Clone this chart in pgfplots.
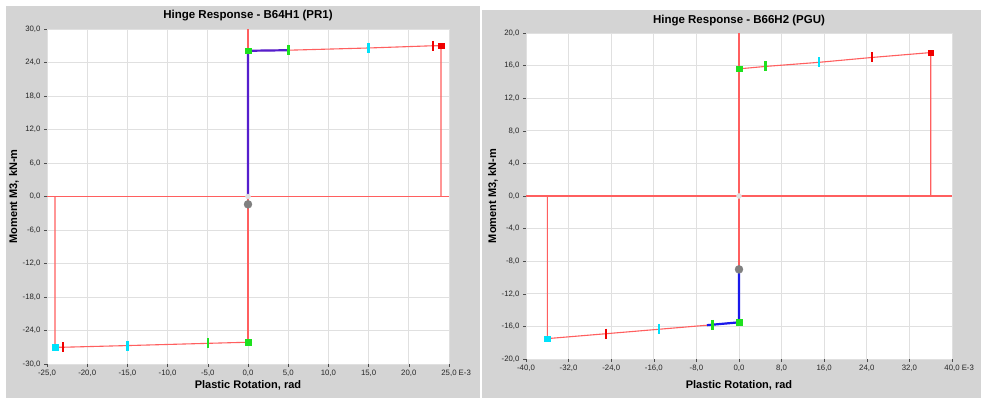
\documentclass[border=0pt]{standalone}
\usepackage{fontspec}
\setmainfont{Liberation Sans}
\usepackage{pgfplots}
\pgfplotsset{compat=1.18}

\definecolor{panelgrey}{RGB}{212,212,212}
\definecolor{bbred}{RGB}{255,95,95}
\definecolor{mred}{RGB}{240,0,0}
\definecolor{mgreen}{RGB}{30,225,30}
\definecolor{mcyan}{RGB}{0,225,250}
\definecolor{lblue}{RGB}{85,30,205}
\definecolor{rblue}{RGB}{25,25,235}

\pgfplotsset{
 hinge/.style={
  scale only axis, anchor=south west,
  axis background/.style={fill=white},
  axis line style={draw=none},
  grid=major, major grid style={black!12, line width=0.9pt},
  tick align=outside, major tick length=3pt,
  tick style={black!70, line width=0.5pt},
  xtick pos=bottom, ytick pos=left,
  tick label style={font=\fontsize{7.8}{9}\selectfont, text=black!85},
  title style={font=\bfseries\fontsize{11.5}{13}\selectfont, anchor=center, yshift=-6pt},
  xlabel style={font=\bfseries\fontsize{11}{13}\selectfont, anchor=center},
  ylabel style={font=\bfseries\fontsize{11}{13}\selectfont, anchor=center},
  clip=false,
 },
 bb/.style={color=bbred, line width=1.1pt, mark=none},
 gsq/.style={only marks, mark=square*, mark size=2.8pt, color=mgreen},
 rsq/.style={only marks, mark=square*, mark size=2.8pt, color=mred},
 csq/.style={only marks, mark=square*, mark size=2.8pt, color=mcyan},
 gtk/.style={only marks, mark=|, mark size=5pt, color=mgreen, mark options={line width=2.6pt}},
 ctk/.style={only marks, mark=|, mark size=5pt, color=mcyan, mark options={line width=2.6pt}},
 rtk/.style={only marks, mark=|, mark size=5pt, color=mred, mark options={line width=2.6pt}},
 gcirc/.style={only marks, mark=*, mark size=4pt, color=black!50},
 odot/.style={only marks, mark=*, mark size=2.5pt, color=black!12},
}

\begin{document}
\begin{tikzpicture}
\path[use as bounding box, fill=white] (0,0) rectangle (981pt,398pt);
\fill[panelgrey] (6pt,0pt) rectangle (480pt,392pt);
\fill[panelgrey] (482pt,0pt) rectangle (981pt,388pt);

% ---------------- Left panel ----------------
\begin{axis}[hinge, at={(47pt,34pt)}, width=402pt, height=335pt,
 xmin=-25, xmax=25, ymin=-30, ymax=30,
 xtick={-25,-20,...,25},
 xticklabels={{-25,0},{-20,0},{-15,0},{-10,0},{-5,0},{0,0},{5,0},{10,0},{15,0},{20,0},{25,0\rlap{ E-3}}},
 ytick={-30,-24,...,30},
 yticklabels={{-30,0},{-24,0},{-18,0},{-12,0},{-6,0},{0,0},{6,0},{12,0},{18,0},{24,0},{30,0}},
 title={Hinge Response - B64H1 (PR1)},
 title style={at={(axis description cs:0.5,1.039)}},
 xlabel={Plastic Rotation, rad},
 xlabel style={at={(axis description cs:0.5,-0.063)}},
 ylabel={Moment M3, kN-m},
 ylabel style={at={(axis description cs:-0.082,0.5)}},
]
\addplot[bb] coordinates {(-25,0) (25,0)};
\addplot[bb] coordinates {(0,30) (0,-26.1)};
\addplot[bb] coordinates {(-24,0) (-24,-27) (-23,-27) (-15,-26.7) (-5,-26.3) (0,-26.1)};
\addplot[bb] coordinates {(0,26.1) (5,26.2) (15,26.6) (23,27) (24,27) (24,0)};
\addplot[lblue, line width=2.2pt, mark=none] coordinates {(0,0) (0,26.1) (5,26.2)};
\addplot[odot] coordinates {(0,0)};
\addplot[gsq] coordinates {(0,26.1) (0,-26.1)};
\addplot[gtk] coordinates {(5,26.2) (-5,-26.3)};
\addplot[ctk] coordinates {(15,26.6) (-15,-26.7)};
\addplot[rtk] coordinates {(23,27) (-23,-27)};
\addplot[rsq] coordinates {(24,27)};
\addplot[csq] coordinates {(-24,-27)};
\addplot[gcirc] coordinates {(0,-1.4)};
\end{axis}

% ---------------- Right panel ----------------
\begin{axis}[hinge, at={(526pt,39pt)}, width=426pt, height=326pt,
 xmin=-40, xmax=40, ymin=-20, ymax=20,
 xtick={-40,-32,...,40},
 xticklabels={{-40,0},{-32,0},{-24,0},{-16,0},{-8,0},{0,0},{8,0},{16,0},{24,0},{32,0},{40,0\rlap{ E-3}}},
 ytick={-20,-16,...,20},
 yticklabels={{-20,0},{-16,0},{-12,0},{-8,0},{-4,0},{0,0},{4,0},{8,0},{12,0},{16,0},{20,0}},
 title={Hinge Response - B66H2 (PGU)},
 title style={at={(axis description cs:0.5,1.037)}},
 xlabel={Plastic Rotation, rad},
 xlabel style={at={(axis description cs:0.5,-0.08)}},
 ylabel={Moment M3, kN-m},
 ylabel style={at={(axis description cs:-0.0775,0.5)}},
]
\addplot[bb] coordinates {(-40,0) (40,0)};
\addplot[bb] coordinates {(0,20) (0,-15.5)};
\addplot[bb] coordinates {(-36,0) (-36,-17.5) (-25,-16.9) (-15,-16.35) (-5,-15.8) (0,-15.5)};
\addplot[bb] coordinates {(0,15.6) (5,15.9) (15,16.4) (25,17.0) (36,17.6) (36,0)};
\addplot[rblue, line width=2.2pt, mark=none] coordinates {(0,-9) (0,-15.5) (-6,-15.85)};
\addplot[odot] coordinates {(0,0)};
\addplot[gsq] coordinates {(0,15.6) (0,-15.5)};
\addplot[gtk] coordinates {(5,15.9) (-5,-15.8)};
\addplot[ctk] coordinates {(15,16.4) (-15,-16.35)};
\addplot[rtk] coordinates {(25,17.0) (-25,-16.9)};
\addplot[rsq] coordinates {(36,17.6)};
\addplot[csq] coordinates {(-36,-17.5)};
\addplot[gcirc] coordinates {(0,-9)};
\end{axis}
\end{tikzpicture}
\end{document}
